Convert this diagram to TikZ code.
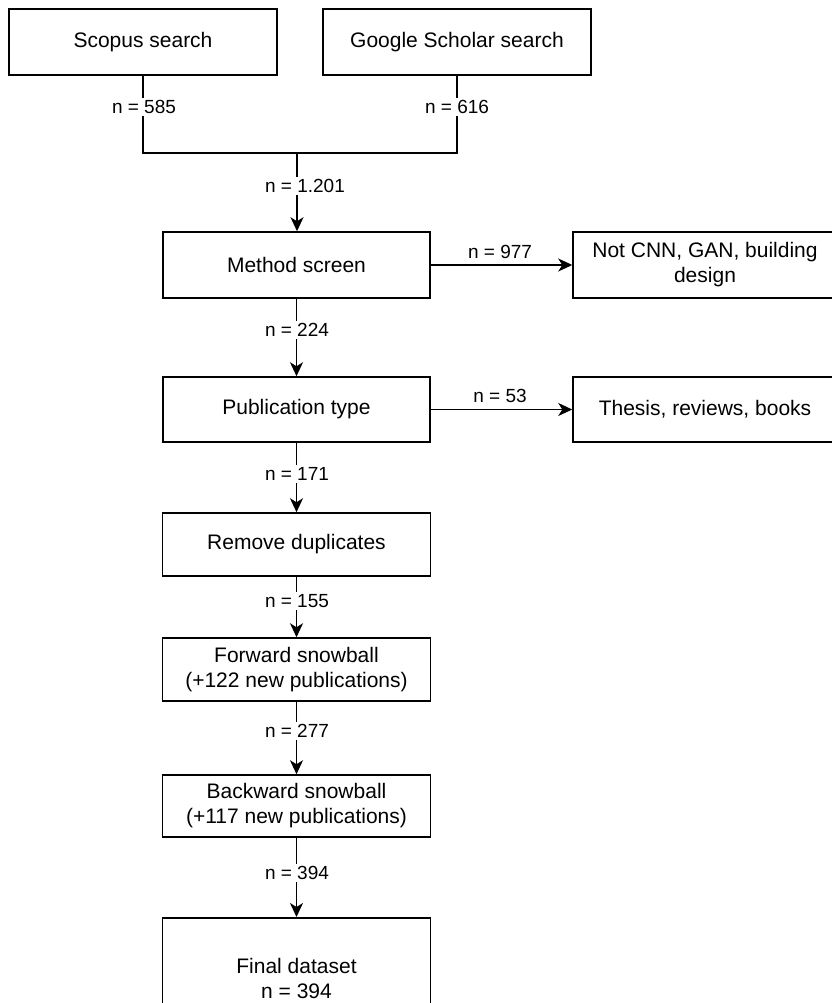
\documentclass[tikz,border=0pt]{standalone}
\usepackage{fontspec}
\setmainfont{Liberation Sans}
\usetikzlibrary{arrows.meta}
\tikzset{
  box/.style={draw, line width=1.5pt, minimum width=#1, inner sep=0pt, align=center,
    font=\fontsize{21}{25}\selectfont},
  box/.default=267pt,
  lbl/.style={fill=white, inner sep=2pt, font=\fontsize{19}{22}\selectfont},
  lblfree/.style={inner sep=1pt, font=\fontsize{19}{22}\selectfont},
  link/.style={line width=1.5pt},
  arr/.style={line width=1.5pt, -{Stealth[length=14pt, width=13pt, inset=4pt]}}
}
\begin{document}
\begin{tikzpicture}[x=1pt, y=-1pt]
\useasboundingbox (0,0) rectangle (831,1003);
% boxes
\node[box=268pt, minimum height=66pt] (scopus) at (143,42) {Scopus search};
\node[box=268pt, minimum height=66pt] (google) at (457,42) {Google Scholar search};
\node[box, minimum height=66pt] (method) at (296.5,265) {Method screen};
\node[box=264pt, minimum height=66pt] (notcnn) at (705,265) {Not CNN, GAN, building\\design};
\node[box, minimum height=65pt] (pub) at (296.5,409.5) {Publication type};
\node[box=264pt, minimum height=65pt] (thesis) at (705,409.5) {Thesis, reviews, books};
\node[box=268pt, minimum height=63pt] (remove) at (296.5,544.5) {Remove duplicates};
\node[box=268pt, minimum height=63pt] (forward) at (296.5,669.5) {Forward snowball\\(+122 new publications)};
\node[box=268pt, minimum height=62pt] (backward) at (296.5,806) {Backward snowball\\(+117 new publications)};
\node[box=268pt, minimum height=126pt, anchor=north] (final) at (296.5,917) {};
\node[align=center, inner sep=0pt, font=\fontsize{21}{25}\selectfont] (finaltext) at (296.5,978) {Final dataset\\n = 394};
% merge
\coordinate (join) at (297,153);
\draw[link] (scopus.south) |- (join);
\draw[link] (google.south) |- (join);
\draw[arr] (join) -- (join |- method.north);
% vertical flow
\draw[arr] (method.south) -- (pub.north);
\draw[arr] (pub.south) -- (remove.north);
\draw[arr] (remove.south) -- (forward.north);
\draw[arr] (forward.south) -- (backward.north);
\draw[arr] (backward.south) -- (final.north);
% side flow
\draw[arr] (method.east) -- (notcnn.west);
\draw[arr] (pub.east) -- (thesis.west);
% labels
\node[lbl] (l585) at (144,107) {n = 585};
\node[lbl] (l616) at (457,107) {n = 616};
\node[lbl] (l1201) at (305,186) {n = 1.201};
\node[lbl] (l224) at (297,330) {n = 224};
\node[lbl] (l171) at (297,474) {n = 171};
\node[lbl] (l155) at (297,601) {n = 155};
\node[lbl] (l277) at (297,731) {n = 277};
\node[lbl] (l394) at (297,873) {n = 394};
\node[lblfree] (l977) at (500,252) {n = 977};
\node[lblfree] (l53) at (500,396) {n = 53};
\end{tikzpicture}
\end{document}
